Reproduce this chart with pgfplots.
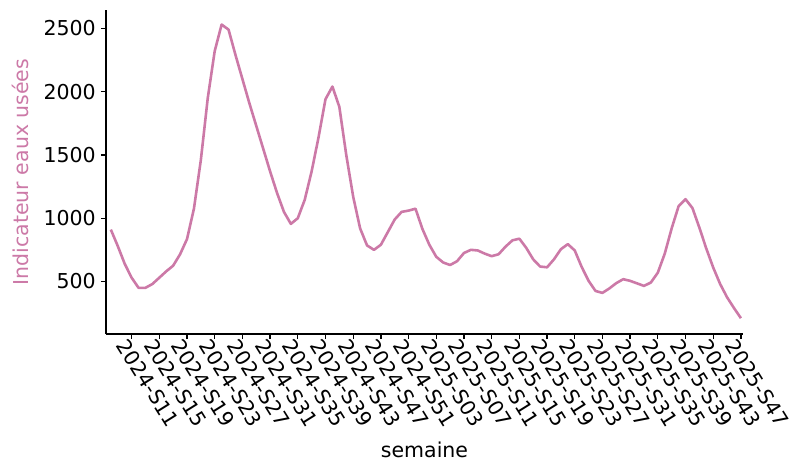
\documentclass[border=0pt]{standalone}
\usepackage{fontspec}
\setmainfont{DejaVu Sans}
\usepackage{pgfplots}
\usepackage{pgfplotstable}
\pgfplotsset{compat=1.18}
\definecolor{mauve}{RGB}{204,121,167}

% weekly wastewater indicator, index 0 = 2024-S08
\pgfplotstableread{
i v
0 910
1 780
2 640
3 530
4 450
5 450
6 480
7 530
8 580
9 625
10 715
11 835
12 1075
13 1460
14 1950
15 2320
16 2530
17 2490
18 2290
19 2100
20 1910
21 1730
22 1550
23 1370
24 1200
25 1050
26 955
27 1000
28 1145
29 1370
30 1640
31 1940
32 2040
33 1880
34 1500
35 1170
36 920
37 785
38 750
39 790
40 890
41 990
42 1050
43 1060
44 1075
45 915
46 790
47 695
48 650
49 630
50 660
51 725
52 750
53 745
54 720
55 700
56 715
57 775
58 825
59 838
60 765
61 675
62 618
63 612
64 675
65 755
66 795
67 745
68 615
69 505
70 425
71 410
72 445
73 487
74 518
75 505
76 485
77 465
78 492
79 570
80 720
81 920
82 1095
83 1150
84 1080
85 925
86 760
87 610
88 480
89 375
90 290
91 210
}\weeks

\begin{document}
\begin{tikzpicture}
\useasboundingbox (-106pt,-129pt) rectangle (686pt,334pt);
\begin{axis}[
  at={(0,0)}, anchor=south west,
  scale only axis, width=637pt, height=324pt,
  xmin=-0.7, xmax=91.3, ymin=85, ymax=2645,
  axis lines=left,
  axis line style={-, line width=1.4pt, black},
  tick align=outside,
  major tick length=5pt,
  tick style={line width=1.3pt, black},
  xtick={3,7,...,91},
  xticklabels={2024-S11,2024-S15,2024-S19,2024-S23,2024-S27,2024-S31,2024-S35,2024-S39,2024-S43,2024-S47,2024-S51,2025-S03,2025-S07,2025-S11,2025-S15,2025-S19,2025-S23,2025-S27,2025-S31,2025-S35,2025-S39,2025-S43,2025-S47},
  ytick={500,1000,1500,2000,2500},
  /pgf/number format/assume math mode=true,
  /pgf/number format/1000 sep={},
  every tick label/.append style={font=\fontsize{20.5}{24}\selectfont, black},
  xticklabel style={font=\fontsize{20.5}{24}\selectfont, rotate=-58, anchor=north west, inner sep=0.5pt, xshift=-4pt, yshift=-1pt},
  yticklabel style={inner sep=2pt, xshift=-3pt},
  every axis y label/.style={at={(rel axis cs:-0.1209,0.5)}, rotate=90, anchor=base,
    font=\fontsize{20.5}{24}\selectfont, text=mauve},
  every axis x label/.style={at={(rel axis cs:0.5,-0.382)}, anchor=base,
    font=\fontsize{20.5}{24}\selectfont},
  ylabel={Indicateur eaux usées},
  xlabel={semaine},
  clip=false,
]
\addplot[mauve, line width=2.6pt, line join=round] table[x=i, y=v] {\weeks};
\end{axis}
\end{tikzpicture}
\end{document}
